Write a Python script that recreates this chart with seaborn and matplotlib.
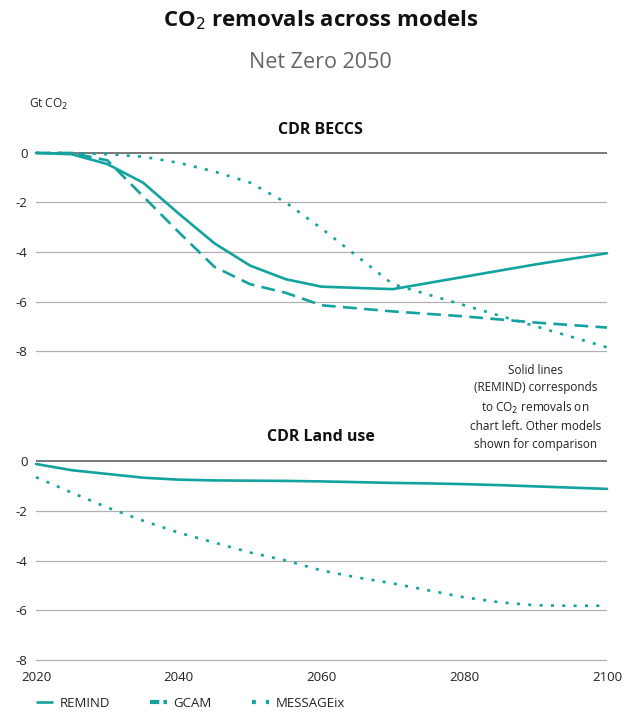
import numpy as np
import pandas as pd
import matplotlib
matplotlib.use("Agg")
import matplotlib.pyplot as plt
import seaborn as sns
from matplotlib.lines import Line2D

years = [2020, 2025, 2030, 2035, 2040, 2045, 2050, 2055, 2060, 2070, 2080, 2090, 2100]
models = ["REMIND", "GCAM", "MESSAGEix"]

beccs_remind = [0.0, -0.05, -0.45, -1.2, -2.45, -3.65, -4.55, -5.1, -5.4, -5.5, -5.0, -4.5, -4.05]
beccs_gcam = [0.0, 0.0, -0.3, -1.75, -3.2, -4.6, -5.3, -5.65, -6.15, -6.4, -6.6, -6.85, -7.05]
beccs_message = [0.0, 0.0, -0.05, -0.15, -0.4, -0.75, -1.2, -2.0, -3.05, -5.3, -6.15, -7.0, -7.85]

land_years = [2020, 2025, 2030, 2035, 2040, 2045, 2050, 2055, 2060, 2065, 2070, 2075, 2080, 2085, 2090, 2095, 2100]
land_remind = [-0.12, -0.37, -0.52, -0.67, -0.75, -0.78, -0.79, -0.8, -0.82, -0.85, -0.88, -0.9, -0.93, -0.97, -1.02, -1.07, -1.12]
land_message = [-0.65, -1.27, -1.87, -2.4, -2.88, -3.28, -3.68, -4.0, -4.4, -4.68, -4.92, -5.2, -5.48, -5.68, -5.8, -5.82, -5.82]

yticks = [0, -2, -4, -6, -8]
xticks = [2020, 2040, 2060, 2080, 2100]

TEAL = "#12a2a0"

df_top = pd.DataFrame({
    "year": years * 3,
    "value": beccs_remind + beccs_gcam + beccs_message,
    "model": ["REMIND"] * len(years) + ["GCAM"] * len(years) + ["MESSAGEix"] * len(years),
})
df_bot = pd.DataFrame({
    "year": land_years * 2,
    "value": land_remind + land_message,
    "model": ["REMIND"] * len(land_years) + ["MESSAGEix"] * len(land_years),
})

sns.set_theme(style="white")
plt.rcParams["font.family"] = ["Open Sans", "DejaVu Sans"]

fig = plt.figure(figsize=(6.41, 7.13), dpi=100)
ax1 = fig.add_axes([0.0562, 0.5007, 0.8908, 0.2917])
ax2 = fig.add_axes([0.0562, 0.0673, 0.8908, 0.2931])

palette = {m: TEAL for m in models}
dashes = {"REMIND": "", "GCAM": (5.2, 2.8), "MESSAGEix": (1.15, 3.15)}
lw = 1.9

for ax, df in [(ax1, df_top), (ax2, df_bot)]:
    present = [m for m in models if m in df.model.unique()]
    sns.lineplot(data=df, x="year", y="value", hue="model", style="model",
                 palette=palette, dashes=dashes, hue_order=present,
                 style_order=present, linewidth=lw, legend=False, ax=ax,
                 clip_on=False)
    ax.set_xlim(2020, 2100)
    ax.set_ylim(-8.2, 0.2)
    ax.set_yticks(yticks)
    ax.set_yticklabels([str(t) for t in yticks])
    for t in yticks:
        ax.axhline(t, color="#555555" if t == 0 else "#b0b0b0",
                   lw=1.1 if t == 0 else 0.9, zorder=0)
    for s in ax.spines.values():
        s.set_visible(False)
    ax.set_xlabel("")
    ax.set_ylabel("")
    ax.tick_params(axis="y", length=0, pad=6, labelsize=9.5, labelcolor="#222222")
    ax.grid(False)

ax1.set_xticks([])
ax2.set_xticks(xticks)
ax2.set_xticklabels([str(t) for t in xticks])
ax2.tick_params(axis="x", length=0, pad=4, labelsize=9.5, labelcolor="#222222")

fig.text(0.5, 0.972, "CO$_2$ removals across models", ha="center", va="center",
         fontsize=16, fontweight="bold", color="#111111")
fig.text(0.5, 0.913, "Net Zero 2050", ha="center", va="center",
         fontsize=15.5, color="#666666")
fig.text(0.075, 0.854, "Gt CO$_2$", ha="center", va="center", fontsize=8.5, color="#222222")
fig.text(0.5, 0.817, "CDR BECCS", ha="center", va="center", fontsize=11.5,
         fontweight="bold", color="#111111")
fig.text(0.5, 0.387, "CDR Land use", ha="center", va="center", fontsize=11.5,
         fontweight="bold", color="#111111")
fig.text(0.835, 0.429, "Solid lines\n(REMIND) corresponds\nto CO$_2$ removals on\nchart left. Other models\nshown for comparison",
         ha="center", va="center", fontsize=8.5, color="#222222", linespacing=1.45)

handles = [
    Line2D([], [], color=TEAL, lw=lw, solid_capstyle="butt"),
    Line2D([], [], color=TEAL, lw=lw * 1.6, dashes=(2.2, 1.0), solid_capstyle="butt"),
    Line2D([], [], color=TEAL, lw=lw * 1.6, dashes=(0.9, 2.4)),
]
fig.legend(handles, models, loc="center left", bbox_to_anchor=(0.038, 0.014), ncol=3,
           frameon=False, fontsize=9.5, handlelength=1.3, handletextpad=0.5,
           columnspacing=3.0, labelcolor="#222222")

fig.savefig("out.png", dpi=100)
